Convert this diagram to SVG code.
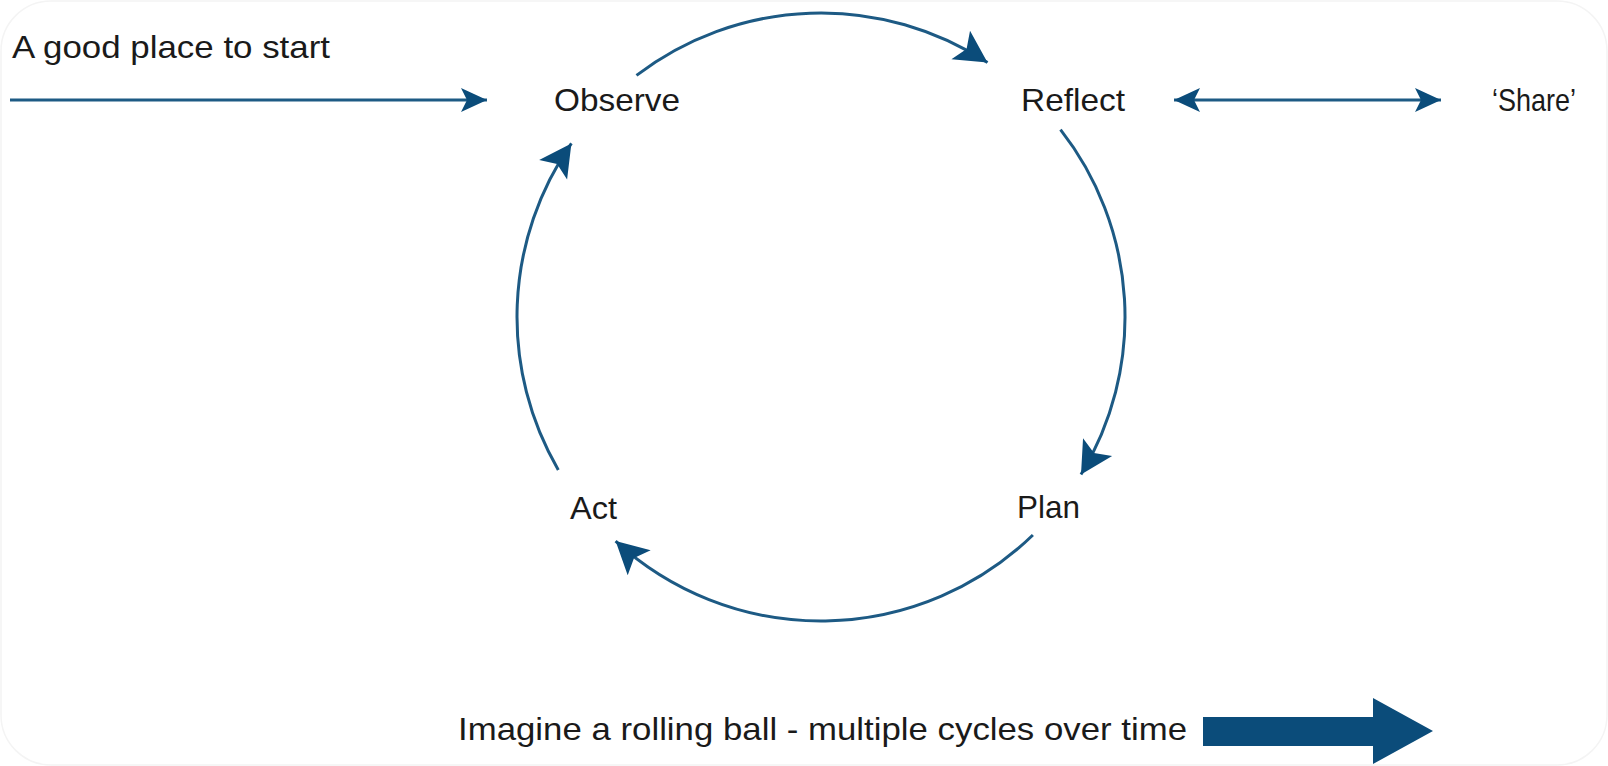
<svg xmlns="http://www.w3.org/2000/svg" width="1608" height="766" viewBox="0 0 1608 766">
  <defs>
    <style>
      .lbl { font-family: "Liberation Sans", Arial, sans-serif; font-size: 32px; fill: #1a1a1a; }
      .con { fill: none; stroke: #1d5a84; stroke-width: 3; }
      .hd { fill: #0b4c7a; }
    </style>
    <marker id="ahBig" markerUnits="userSpaceOnUse" markerWidth="36" markerHeight="40" viewBox="-34 -20 36 40" refX="0" refY="0" orient="auto">
      <path class="hd" d="M0,0 L-32,-17 L-25,0 L-32,17 Z"/>
    </marker>
    <marker id="ah" markerUnits="userSpaceOnUse" markerWidth="30" markerHeight="30" viewBox="-28 -15 30 30" refX="0" refY="0" orient="auto-start-reverse">
      <path class="hd" d="M0,0 L-26,-12 L-20,0 L-26,12 Z"/>
    </marker>
  </defs>

  <rect x="1" y="1" width="1606" height="764" rx="50" ry="50" fill="#ffffff" stroke="#f4f4f4" stroke-width="1.5"/>

  <g id="connectors">
    <path class="con" d="M636.5,75.4 A304,304 0 0 1 987.5,62.6" marker-end="url(#ahBig)"/>
    <path class="con" d="M1060.5,129.7 A304,304 0 0 1 1081,474.5" marker-end="url(#ahBig)"/>
    <path class="con" d="M1032.9,535 A304,304 0 0 1 615.6,541.1" marker-end="url(#ahBig)"/>
    <path class="con" d="M558.3,469.9 A304,304 0 0 1 571.4,143.4" marker-end="url(#ahBig)"/>
    <line class="con" x1="10" y1="100" x2="487" y2="100" stroke-width="2.5" marker-end="url(#ah)"/>
    <line class="con" x1="1174" y1="100" x2="1441" y2="100" stroke-width="2.5" marker-start="url(#ah)" marker-end="url(#ah)"/>
  </g>

  <g id="start-label">
    <text class="lbl" x="12" y="58" textLength="318" lengthAdjust="spacingAndGlyphs">A good place to start</text>
  </g>
  <g id="observe">
    <text class="lbl" x="554" y="111" textLength="126" lengthAdjust="spacingAndGlyphs">Observe</text>
  </g>
  <g id="reflect">
    <text class="lbl" x="1021" y="111" textLength="104" lengthAdjust="spacingAndGlyphs">Reflect</text>
  </g>
  <g id="share">
    <text class="lbl" x="1492" y="111" textLength="84" lengthAdjust="spacingAndGlyphs">‘Share’</text>
  </g>
  <g id="plan">
    <text class="lbl" x="1017" y="518" textLength="63" lengthAdjust="spacingAndGlyphs">Plan</text>
  </g>
  <g id="act">
    <text class="lbl" x="570" y="519" textLength="47" lengthAdjust="spacingAndGlyphs">Act</text>
  </g>
  <g id="rolling-ball">
    <text class="lbl" x="458" y="740" textLength="729" lengthAdjust="spacingAndGlyphs">Imagine a rolling ball - multiple cycles over time</text>
    <path class="hd" d="M1203,717 L1373,717 L1373,698 L1433,731 L1373,764 L1373,746 L1203,746 Z"/>
  </g>
</svg>
